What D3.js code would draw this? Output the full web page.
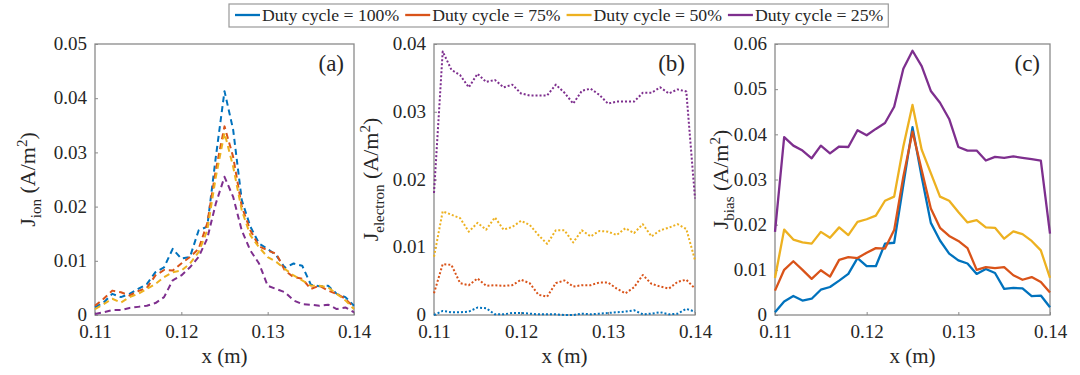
<!DOCTYPE html>
<html>
<head>
<meta charset="utf-8">
<script src="https://cdn.jsdelivr.net/npm/d3@7"></script>
<style>
  body { margin: 0; background: #fff; }
  svg { display: block; }
  svg text { font-family: "Liberation Serif", "Times New Roman", Times, "DejaVu Serif", serif !important; fill: #262626; }
</style>
</head>
<body>
<svg id="chart" width="1080" height="375"></svg>
<script>
// ---------- DATA ----------
const xValues = [0.110,0.111,0.112,0.113,0.114,0.115,0.116,0.117,0.118,0.119,0.120,
                 0.121,0.122,0.123,0.124,0.125,0.126,0.127,0.128,0.129,0.130,
                 0.131,0.132,0.133,0.134,0.135,0.136,0.137,0.138,0.139,0.140];

const seriesNames = ["Duty cycle = 100%", "Duty cycle = 75%", "Duty cycle = 50%", "Duty cycle = 25%"];
const seriesColors = ["#0072BD", "#D95319", "#EDB120", "#7E2F8E"];

// (a) J_ion
const ion100 = [0.0014,0.0023,0.0039,0.0033,0.0039,0.0048,0.0057,0.0079,0.0088,0.0122,0.0104,
                0.0107,0.0156,0.0163,0.0292,0.0413,0.0342,0.0212,0.0163,0.0132,0.0122,
                0.0110,0.0087,0.0095,0.0091,0.0056,0.0053,0.0054,0.0039,0.0033,0.0017];
const ion75  = [0.0017,0.0030,0.0045,0.0042,0.0036,0.0044,0.0050,0.0073,0.0083,0.0082,0.0095,
                0.0107,0.0122,0.0169,0.0268,0.0348,0.0292,0.0200,0.0156,0.0127,0.0119,
                0.0113,0.0082,0.0070,0.0067,0.0048,0.0054,0.0045,0.0039,0.0030,0.0014];
const ion50  = [0.0011,0.0020,0.0030,0.0023,0.0033,0.0039,0.0048,0.0057,0.0070,0.0079,0.0082,
                0.0095,0.0116,0.0156,0.0255,0.0336,0.0274,0.0193,0.0147,0.0125,0.0107,
                0.0098,0.0085,0.0073,0.0064,0.0054,0.0054,0.0051,0.0039,0.0027,0.0011];
const ion25  = [0.0002,0.0005,0.0009,0.0009,0.0013,0.0015,0.0017,0.0022,0.0033,0.0064,0.0073,
                0.0088,0.0107,0.0141,0.0206,0.0255,0.0218,0.0156,0.0119,0.0095,0.0054,
                0.0048,0.0042,0.0027,0.0020,0.0019,0.0017,0.0019,0.0011,0.0014,0.0005];

// (b) J_electron
const ele100 = [0.0000,0.0006,0.0004,0.0004,0.0005,0.0011,0.0010,0.0001,0.0001,0.0003,0.0003,
                0.0002,0.0001,0.0001,0.0001,0.0000,0.0000,0.0002,0.0001,0.0002,0.0003,
                0.0004,0.0005,0.0007,0.0001,0.0002,0.0004,0.0001,0.0002,0.0009,0.0005];
const ele75  = [0.0032,0.0075,0.0074,0.0047,0.0044,0.0054,0.0043,0.0044,0.0043,0.0044,0.0052,
                0.0047,0.0030,0.0027,0.0047,0.0051,0.0042,0.0044,0.0044,0.0048,0.0048,
                0.0039,0.0032,0.0041,0.0059,0.0046,0.0042,0.0039,0.0049,0.0052,0.0039];
const ele50  = [0.0086,0.0153,0.0148,0.0143,0.0123,0.0136,0.0126,0.0144,0.0126,0.0130,0.0139,
                0.0133,0.0118,0.0105,0.0125,0.0125,0.0107,0.0125,0.0116,0.0124,0.0123,
                0.0118,0.0128,0.0121,0.0134,0.0116,0.0125,0.0129,0.0134,0.0127,0.0081];
const ele25  = [0.0180,0.0389,0.0362,0.0354,0.0336,0.0356,0.0344,0.0347,0.0336,0.0340,0.0327,
                0.0324,0.0324,0.0324,0.0340,0.0328,0.0312,0.0331,0.0334,0.0325,0.0312,
                0.0315,0.0315,0.0315,0.0328,0.0328,0.0336,0.0327,0.0333,0.0330,0.0172];

// (c) J_bias
const bias100 = [0.0006,0.0030,0.0042,0.0032,0.0036,0.0056,0.0062,0.0076,0.0091,0.0126,0.0108,
                 0.0108,0.0158,0.0160,0.0288,0.0416,0.0306,0.0204,0.0165,0.0136,0.0121,
                 0.0114,0.0091,0.0102,0.0093,0.0058,0.0060,0.0059,0.0042,0.0043,0.0017];
const bias75  = [0.0054,0.0100,0.0119,0.0100,0.0080,0.0099,0.0085,0.0122,0.0128,0.0126,0.0138,
                 0.0148,0.0147,0.0188,0.0306,0.0406,0.0321,0.0236,0.0193,0.0175,0.0164,
                 0.0148,0.0100,0.0106,0.0104,0.0106,0.0088,0.0078,0.0084,0.0073,0.0050];
const bias50  = [0.0082,0.0189,0.0167,0.0161,0.0158,0.0184,0.0171,0.0194,0.0177,0.0206,0.0212,
                 0.0220,0.0253,0.0262,0.0373,0.0465,0.0366,0.0314,0.0262,0.0253,0.0228,
                 0.0205,0.0210,0.0194,0.0193,0.0169,0.0185,0.0179,0.0164,0.0143,0.0082];
const bias25  = [0.0184,0.0394,0.0375,0.0364,0.0347,0.0375,0.0358,0.0373,0.0372,0.0409,0.0398,
                 0.0412,0.0425,0.0461,0.0545,0.0585,0.0551,0.0496,0.0470,0.0434,0.0372,
                 0.0364,0.0364,0.0342,0.0350,0.0348,0.0351,0.0348,0.0345,0.0342,0.0180];

const xTicks = [0.11, 0.12, 0.13, 0.14];
const xTickLabels = ["0.11", "0.12", "0.13", "0.14"];
const yTicksA = [0, 0.01, 0.02, 0.03, 0.04, 0.05];
const yTickLabelsA = ["0", "0.01", "0.02", "0.03", "0.04", "0.05"];
const yTicksB = [0, 0.01, 0.02, 0.03, 0.04];
const yTickLabelsB = ["0", "0.01", "0.02", "0.03", "0.04"];
const yTicksC = [0, 0.01, 0.02, 0.03, 0.04, 0.05, 0.06];
const yTickLabelsC = ["0", "0.01", "0.02", "0.03", "0.04", "0.05", "0.06"];

// ---------- LAYOUT ----------
const FONT = '"Liberation Serif", "Times New Roman", Times, "DejaVu Serif", serif';
const panels = [
  { left: 95,  right: 354,  top: 44, bottom: 315, yMax: 0.05, yTicks: yTicksA, yLabels: yTickLabelsA,
    series: [ion100, ion75, ion50, ion25], dash: "6,4", tag: "(a)", sub: "ion", labelX: 35 },
  { left: 434, right: 695,  top: 44, bottom: 315, yMax: 0.04, yTicks: yTicksB, yLabels: yTickLabelsB,
    series: [ele100, ele75, ele50, ele25], dash: "2,2", tag: "(b)", sub: "electron", labelX: 378 },
  { left: 775, right: 1050, top: 44, bottom: 315, yMax: 0.06, yTicks: yTicksC, yLabels: yTickLabelsC,
    series: [bias100, bias75, bias50, bias25], dash: null, tag: "(c)", sub: "bias", labelX: 728 }
];

const svg = d3.select("#chart").attr("font-family", FONT);
const axisColor = "#8a8a8a";

panels.forEach(p => {
  const x = d3.scaleLinear().domain([0.11, 0.14]).range([p.left, p.right]);
  const y = d3.scaleLinear().domain([0, p.yMax]).range([p.bottom, p.top]);
  const g = svg.append("g").attr("font-family", FONT);

  g.append("rect")
    .attr("x", p.left).attr("y", p.top)
    .attr("width", p.right - p.left).attr("height", p.bottom - p.top)
    .attr("fill", "#fff").attr("stroke", axisColor).attr("stroke-width", 1.3);

  const xAxis = d3.axisBottom(x).tickValues(xTicks)
    .tickFormat((d, i) => xTickLabels[i]).tickSizeInner(-3).tickSizeOuter(0).tickPadding(10);
  const gx = g.append("g").attr("transform", `translate(0,${p.bottom})`).call(xAxis)
    .attr("font-family", FONT).attr("font-size", 19);
  gx.select(".domain").remove();
  gx.selectAll(".tick line").attr("stroke", axisColor);
  gx.selectAll(".tick text").attr("font-size", 19).attr("fill", "#262626")
    .attr("font-family", FONT).attr("dy", "0.66em");

  const yAxis = d3.axisLeft(y).tickValues(p.yTicks)
    .tickFormat((d, i) => p.yLabels[i]).tickSizeInner(-3).tickSizeOuter(0).tickPadding(8);
  const gy = g.append("g").attr("transform", `translate(${p.left},0)`).call(yAxis)
    .attr("font-family", FONT).attr("font-size", 19);
  gy.select(".domain").remove();
  gy.selectAll(".tick line").attr("stroke", axisColor);
  gy.selectAll(".tick text").attr("font-size", 19).attr("fill", "#262626")
    .attr("font-family", FONT).attr("dy", "0.3em");

  const line = d3.line().x((d, i) => x(xValues[i])).y(d => y(d));
  p.series.forEach((s, k) => {
    g.append("path")
      .attr("d", line(s))
      .attr("fill", "none")
      .attr("stroke", seriesColors[k])
      .attr("stroke-width", p.dash ? 2 : 2.3)
      .attr("stroke-dasharray", p.dash)
      .attr("stroke-linejoin", "round");
  });

  g.append("text").attr("x", p.right - 10).attr("y", p.top + 27)
    .attr("text-anchor", "end").attr("font-size", 23).text(p.tag);

  g.append("text").attr("x", (p.left + p.right) / 2).attr("y", 363)
    .attr("text-anchor", "middle").attr("font-size", 21).text("x (m)");

  const cy = (p.top + p.bottom) / 2;
  const yl = g.append("text")
    .attr("transform", `translate(${p.labelX},${cy}) rotate(-90)`)
    .attr("text-anchor", "middle").attr("font-size", 22);
  yl.append("tspan").text("J");
  yl.append("tspan").attr("font-size", 15).attr("dy", 6).text(p.sub);
  yl.append("tspan").attr("dy", -6).text(" (A/m");
  yl.append("tspan").attr("font-size", 15).attr("dy", -8).text("2");
  yl.append("tspan").attr("dy", 8).text(")");
});

// ---------- LEGEND ----------
const leg = svg.append("g").attr("font-family", FONT);
const legBox = leg.append("rect").attr("y", 4).attr("height", 23)
  .attr("fill", "#fff").attr("stroke", "#999").attr("stroke-width", 1.2);
let cx = 235;
const boxLeft = 229;
seriesNames.forEach((name, k) => {
  leg.append("line").attr("x1", cx).attr("x2", cx + 25).attr("y1", 15).attr("y2", 15)
    .attr("stroke", seriesColors[k]).attr("stroke-width", 2.3);
  const t = leg.append("text").attr("x", cx + 27).attr("y", 20.5)
    .attr("font-size", 17.7).text(name);
  const w = t.node().getComputedTextLength();
  cx = cx + 27 + w + 6;
});
legBox.attr("x", boxLeft).attr("width", cx - 6 + 5 - boxLeft);
</script>
</body>
</html>
